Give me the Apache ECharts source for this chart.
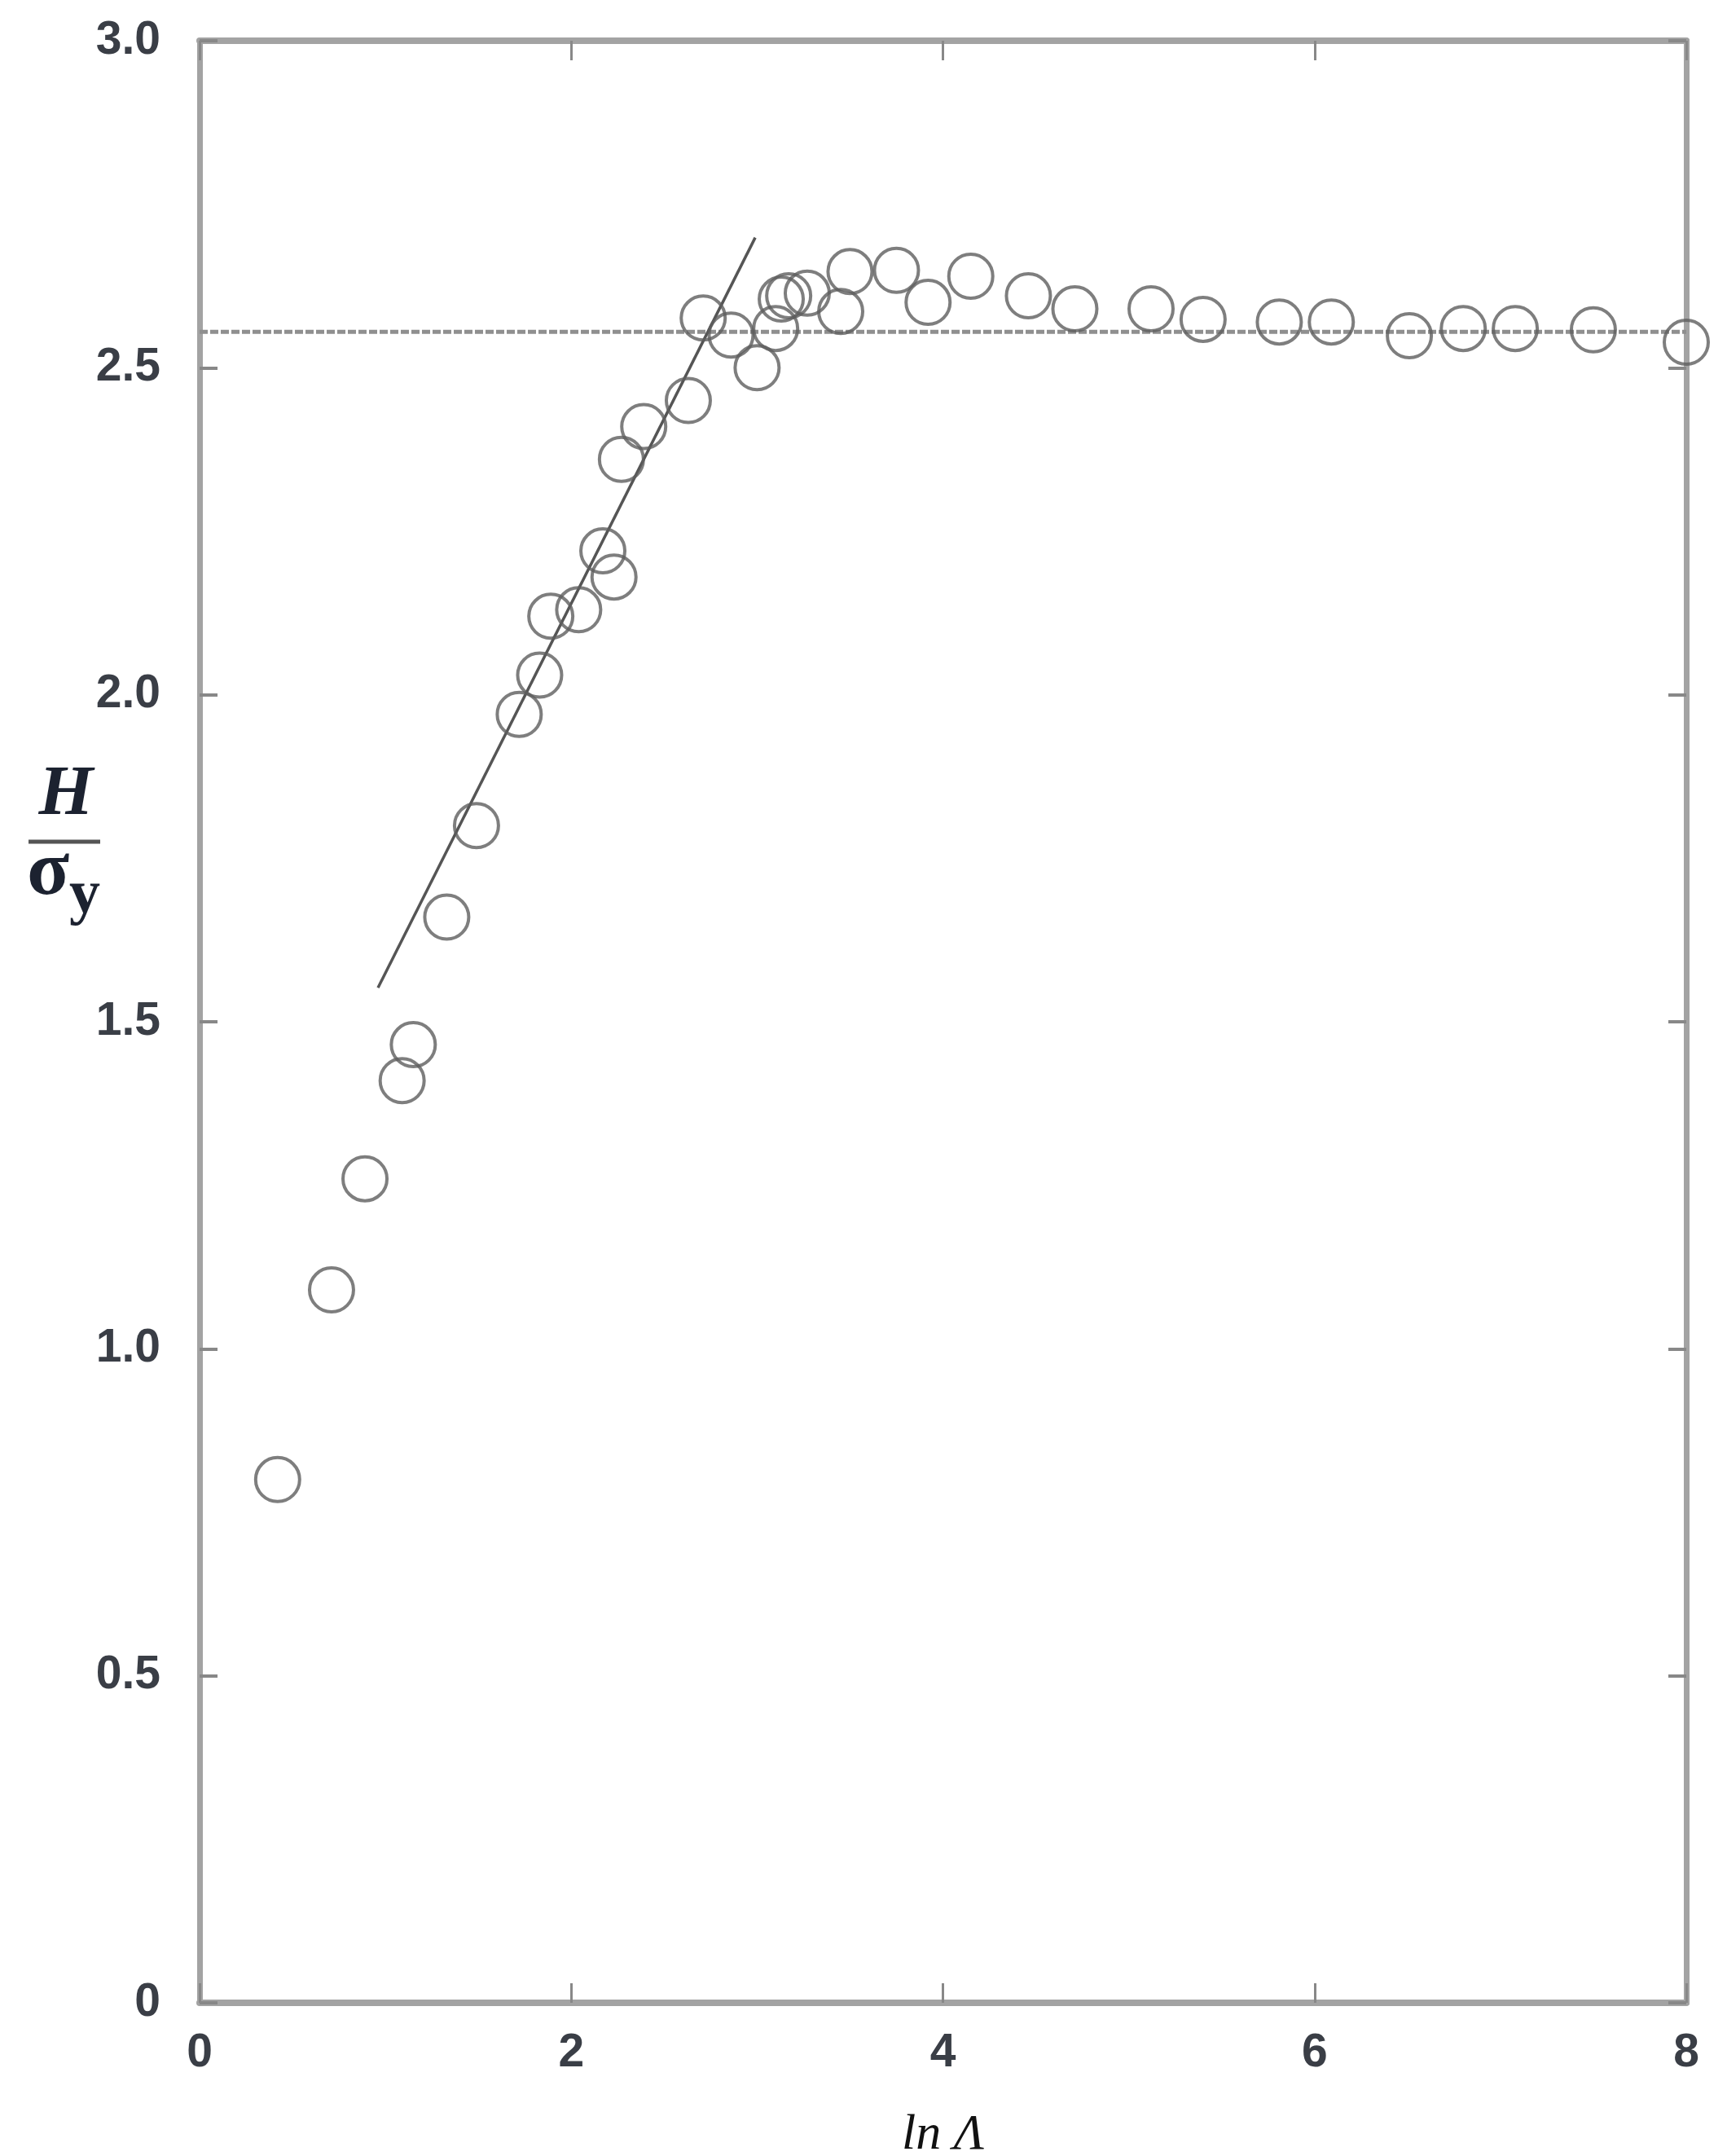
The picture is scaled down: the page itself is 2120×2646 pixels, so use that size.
<!DOCTYPE html>
<html>
<head>
<meta charset="utf-8">
<script src="https://cdn.jsdelivr.net/npm/echarts@6/dist/echarts.min.js"></script>
<style>
  html, body { margin: 0; padding: 0; background: #fff; }
  #chart { width: 2120px; height: 2646px; }
</style>
</head>
<body>
<div id="chart"></div>
<script>
// measured points (ln Λ, H / σy)
const lnA = [0.42, 0.71, 0.89, 1.09, 1.15, 1.33, 1.49, 1.72, 1.83, 1.89, 2.04, 2.17, 2.23, 2.27, 2.39,
  2.63, 2.71, 2.86, 3.00, 3.10, 3.13, 3.17, 3.27, 3.45, 3.50, 3.75, 3.92, 4.15, 4.46, 4.71,
  5.12, 5.40, 5.81, 6.09, 6.51, 6.80, 7.08, 7.50, 8.00];
const hRatio = [0.80, 1.09, 1.26, 1.41, 1.465, 1.66, 1.80, 1.97, 2.03, 2.12, 2.13, 2.22, 2.18, 2.36, 2.41,
  2.45, 2.576, 2.55, 2.50, 2.56, 2.605, 2.61, 2.614, 2.586, 2.647, 2.649, 2.60, 2.64, 2.61, 2.59,
  2.59, 2.574, 2.57, 2.57, 2.549, 2.56, 2.56, 2.558, 2.539];

// straight fit through the rising part
const fitX = [0.96, 2.99];
const fitY = [1.552, 2.699];

// plateau level (dashed)
const plateauX = [0, 8];
const plateauY = [2.555, 2.555];

const frameColor = '#a3a3a3';
const tickFont = {
  color: '#3a3e46', fontSize: 57, fontWeight: 'bold',
  fontFamily: "'Liberation Sans Narrow', 'Liberation Sans', Arial, sans-serif"
};

const chart = echarts.init(document.getElementById('chart'));

const yLabel = (v) => (v === 0 ? '0' : v.toFixed(1));

const option = {
  backgroundColor: '#fff',
  animation: false,
  grid: { left: 245, right: 50, top: 50, bottom: 188, outerBoundsMode: 'none' },
  xAxis: [
    {
      type: 'value', min: 0, max: 8, interval: 2,
      name: 'ln Λ', nameLocation: 'middle', nameGap: 132,
      nameTextStyle: { fontSize: 62, fontStyle: 'italic', fontFamily: 'Liberation Serif, serif', color: '#111' },
      axisLine: { show: true, onZero: false, lineStyle: { color: frameColor, width: 8 } },
      axisTick: { show: true, inside: true, length: 24, lineStyle: { color: '#888', width: 3 } },
      axisLabel: Object.assign({ margin: 34, formatter: (v) => String(v) }, tickFont),
      splitLine: { show: false }
    },
    {
      type: 'value', min: 0, max: 8, interval: 2, position: 'top',
      axisLine: { show: true, onZero: false, lineStyle: { color: frameColor, width: 8 } },
      axisTick: { show: true, inside: true, length: 24, lineStyle: { color: '#888', width: 3 } },
      axisLabel: { show: false },
      splitLine: { show: false }
    }
  ],
  yAxis: [
    {
      type: 'value', min: 0, max: 3, interval: 0.5,
      axisLine: { show: true, onZero: false, lineStyle: { color: frameColor, width: 7 } },
      axisTick: { show: true, inside: true, length: 22, lineStyle: { color: '#888', width: 4 } },
      axisLabel: Object.assign({ margin: 48, formatter: yLabel }, tickFont),
      splitLine: { show: false }
    },
    {
      type: 'value', min: 0, max: 3, interval: 0.5, position: 'right',
      axisLine: { show: true, onZero: false, lineStyle: { color: frameColor, width: 7 } },
      axisTick: { show: true, inside: true, length: 22, lineStyle: { color: '#888', width: 4 } },
      axisLabel: { show: false },
      splitLine: { show: false }
    }
  ],
  graphic: [
    { type: 'text', x: 81, y: 977, style: { text: 'H', fontSize: 86, fontStyle: 'italic', fontWeight: 'bold', fontFamily: 'Liberation Serif, serif', fill: '#1c2230', align: 'center', verticalAlign: 'middle' } },
    { type: 'line', shape: { x1: 35, y1: 1033, x2: 123, y2: 1033 }, style: { stroke: '#555', lineWidth: 5 } },
    { type: 'text', x: 59, y: 1072, style: { text: 'σ', fontSize: 96, fontWeight: 'bold', fontFamily: 'Liberation Serif, serif', fill: '#1c2230', align: 'center', verticalAlign: 'middle' } },
    { type: 'text', x: 104, y: 1100, style: { text: 'y', fontSize: 76, fontWeight: 'bold', fontFamily: 'Liberation Serif, serif', fill: '#1c2230', align: 'center', verticalAlign: 'middle' } }
  ],
  series: [
    {
      type: 'line', name: 'plateau',
      data: plateauX.map((x, i) => [x, plateauY[i]]),
      symbol: 'none',
      lineStyle: { color: '#8f8f8f', width: 5, type: [10, 3] },
      z: 1
    },
    {
      type: 'line', name: 'fit',
      data: fitX.map((x, i) => [x, fitY[i]]),
      symbol: 'none',
      lineStyle: { color: '#555', width: 3.5 },
      z: 2
    },
    {
      type: 'scatter', name: 'data',
      data: lnA.map((x, i) => [x, hRatio[i]]),
      symbol: 'circle',
      symbolSize: 54,
      itemStyle: { color: 'rgba(0,0,0,0)', borderColor: '#5e5e5e', borderWidth: 4 },
      z: 3
    }
  ]
};

chart.setOption(option);
</script>
</body>
</html>
